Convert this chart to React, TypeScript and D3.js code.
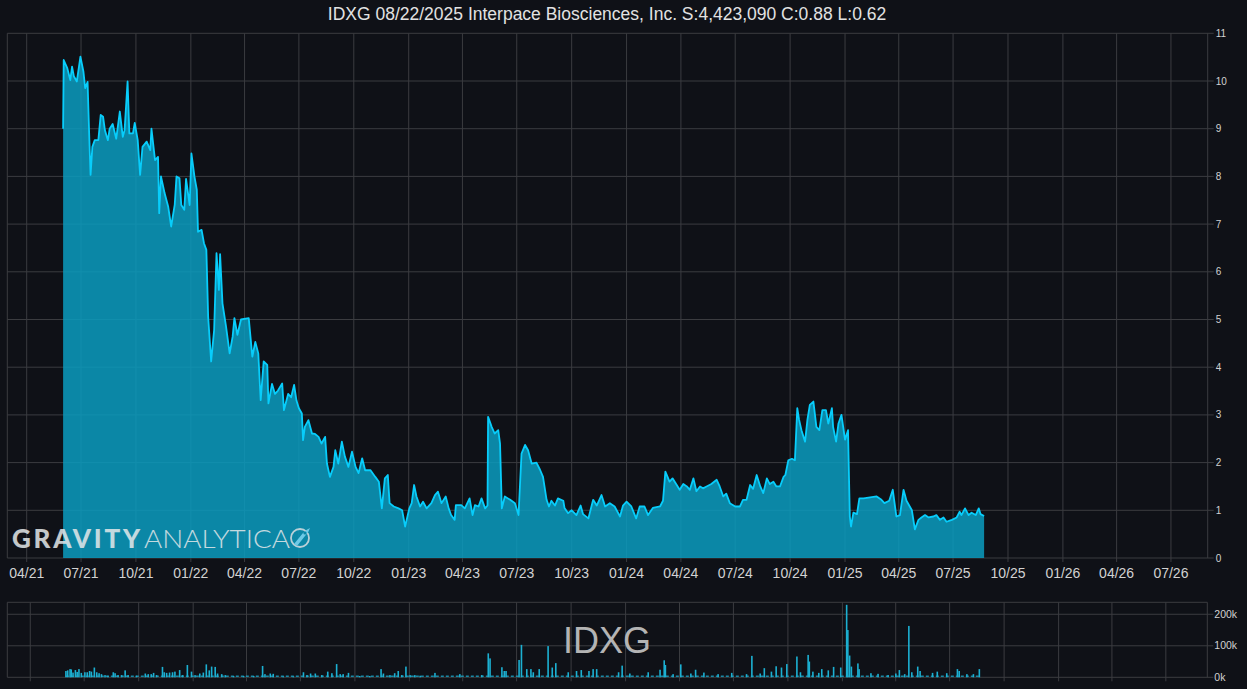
import React from 'react';
import * as d3 from 'd3';

const W = 1247;
const H = 689;

const TITLE = 'IDXG 08/22/2025 Interpace Biosciences, Inc. S:4,423,090 C:0.88 L:0.62';
const SYMBOL = 'IDXG';

const priceDates = [
  '2021-06-01','2021-06-02','2021-06-08','2021-06-13','2021-06-16','2021-06-19','2021-06-24','2021-06-30',
  '2021-07-05','2021-07-08','2021-07-12','2021-07-15','2021-07-17','2021-07-20','2021-07-24','2021-07-30',
  '2021-08-03','2021-08-07','2021-08-10','2021-08-15','2021-08-18','2021-08-23','2021-08-29',
  '2021-09-04','2021-09-09','2021-09-12','2021-09-17','2021-09-20','2021-09-26','2021-09-29',
  '2021-10-04','2021-10-08','2021-10-12','2021-10-19','2021-10-25','2021-10-27',
  '2021-11-02','2021-11-07','2021-11-09','2021-11-12','2021-11-18','2021-11-24','2021-11-29',
  '2021-12-05','2021-12-08','2021-12-13','2021-12-16','2021-12-21','2021-12-24','2021-12-30',
  '2022-01-02','2022-01-07','2022-01-11','2022-01-13','2022-01-19','2022-01-23','2022-01-27','2022-01-30',
  '2022-02-04','2022-02-09','2022-02-13','2022-02-17','2022-02-19','2022-02-23',
  '2022-03-01','2022-03-07','2022-03-12','2022-03-15','2022-03-20','2022-03-26',
  '2022-04-08','2022-04-14','2022-04-19','2022-04-24','2022-04-28',
  '2022-05-03','2022-05-09','2022-05-11','2022-05-17','2022-05-22','2022-05-27',
  '2022-06-03','2022-06-06','2022-06-13','2022-06-18','2022-06-23','2022-06-27',
  '2022-07-01','2022-07-06','2022-07-08','2022-07-11','2022-07-17','2022-07-23','2022-07-28',
  '2022-08-03','2022-08-08','2022-08-14','2022-08-17','2022-08-22','2022-08-28','2022-08-31',
  '2022-09-05','2022-09-11','2022-09-16','2022-09-22','2022-09-28',
  '2022-10-04','2022-10-09','2022-10-15','2022-10-20','2022-10-29',
  '2022-11-06','2022-11-12','2022-11-17','2022-11-22','2022-11-27','2022-11-30',
  '2022-12-07','2022-12-15','2022-12-21','2022-12-26',
  '2023-01-02','2023-01-06','2023-01-10','2023-01-14','2023-01-20','2023-01-25','2023-01-31',
  '2023-02-08','2023-02-14','2023-02-19','2023-02-25',
  '2023-03-04','2023-03-09','2023-03-13','2023-03-19','2023-03-21','2023-03-30',
  '2023-04-05','2023-04-13','2023-04-18','2023-04-22','2023-04-28',
  '2023-05-03','2023-05-09','2023-05-13','2023-05-14','2023-05-20','2023-05-25','2023-05-31',
  '2023-06-03','2023-06-06','2023-06-11','2023-06-20','2023-06-28',
  '2023-07-04','2023-07-09','2023-07-15','2023-07-20','2023-07-26',
  '2023-08-03','2023-08-09','2023-08-14','2023-08-20','2023-08-24','2023-08-28',
  '2023-09-03','2023-09-08','2023-09-17','2023-09-19','2023-09-25',
  '2023-10-01','2023-10-09','2023-10-16','2023-10-20','2023-10-29',
  '2023-11-06','2023-11-12','2023-11-20','2023-11-26',
  '2023-12-04','2023-12-12','2023-12-21','2023-12-26',
  '2024-01-01','2024-01-09','2024-01-17','2024-01-23','2024-01-31',
  '2024-02-06','2024-02-14','2024-02-26',
  '2024-03-02','2024-03-06','2024-03-13','2024-03-18','2024-03-24','2024-03-30',
  '2024-04-05','2024-04-11','2024-04-16','2024-04-22','2024-04-27',
  '2024-05-03','2024-05-08','2024-05-14','2024-05-22','2024-05-31',
  '2024-06-05','2024-06-11','2024-06-16','2024-06-22',
  '2024-07-01','2024-07-09','2024-07-14','2024-07-20','2024-07-26','2024-07-31',
  '2024-08-06','2024-08-12','2024-08-17','2024-08-23','2024-08-28',
  '2024-09-03','2024-09-08','2024-09-14','2024-09-20','2024-09-23','2024-09-28',
  '2024-10-04','2024-10-09','2024-10-13','2024-10-16','2024-10-20','2024-10-26','2024-10-30',
  '2024-11-03','2024-11-09','2024-11-14','2024-11-19','2024-11-24','2024-11-30',
  '2024-12-04','2024-12-10','2024-12-12','2024-12-17','2024-12-21','2024-12-26',
  '2025-01-01','2025-01-06','2025-01-09','2025-01-11','2025-01-15','2025-01-21','2025-01-25',
  '2025-02-01','2025-02-12','2025-02-23',
  '2025-03-03','2025-03-08','2025-03-16','2025-03-22','2025-03-28',
  '2025-04-03','2025-04-09','2025-04-14','2025-04-23','2025-04-28',
  '2025-05-04','2025-05-09','2025-05-15','2025-05-21','2025-05-29',
  '2025-06-03','2025-06-09','2025-06-15','2025-06-20','2025-06-29',
  '2025-07-07','2025-07-12','2025-07-15','2025-07-21','2025-07-27',
  '2025-08-01','2025-08-08','2025-08-13','2025-08-16','2025-08-22',
];

const priceValues = [
  9.0,10.44,10.27,10.02,10.3,10.1,9.99,10.51,
  10.2,9.85,9.98,8.76,8.03,8.62,8.76,8.76,
  9.29,9.25,8.97,8.76,9.0,9.1,8.79,
  9.36,8.83,8.97,9.99,8.9,8.9,9.12,
  8.76,8.03,8.62,8.73,8.55,9.0,
  8.34,8.41,7.23,8.0,7.65,7.37,6.95,
  7.41,8.0,7.96,7.4,7.3,7.95,7.4,
  8.48,8.0,7.72,6.84,6.88,6.6,6.46,5.06,
  4.12,4.78,6.39,5.62,6.37,5.34,
  4.85,4.29,4.64,5.03,4.68,5.0,
  5.03,4.22,4.53,4.29,3.31,
  4.12,4.05,3.24,3.65,3.44,3.51,
  3.66,3.1,3.44,3.37,3.63,3.3,
  3.14,3.03,2.47,2.75,2.89,2.61,2.6,
  2.54,2.4,2.54,1.98,1.7,1.91,2.26,
  1.98,2.44,2.13,1.91,2.23,
  1.91,1.78,2.09,1.84,1.84,
  1.7,1.6,1.04,1.67,1.74,1.15,
  1.08,1.04,1.0,0.66,
  1.04,1.15,1.53,1.29,1.08,1.18,1.04,
  1.15,1.32,1.39,1.15,
  1.29,1.04,0.9,0.8,1.11,1.11,
  1.04,1.25,0.9,1.11,1.08,
  1.25,1.04,1.1,2.96,2.75,2.61,2.68,
  2.4,1.04,1.29,1.22,1.15,
  0.9,2.19,2.37,2.26,1.98,
  2.0,1.85,1.7,1.22,1.08,1.2,
  1.1,1.25,1.2,1.05,0.94,
  1.0,0.9,1.1,0.92,0.83,
  1.22,1.1,1.32,1.08,
  1.15,1.08,0.87,1.1,
  1.18,1.08,0.83,1.08,1.08,
  0.9,1.05,1.08,
  1.2,1.81,1.6,1.67,1.55,1.43,
  1.55,1.5,1.43,1.67,1.4,
  1.5,1.46,1.5,1.55,1.64,
  1.5,1.29,1.35,1.15,
  1.08,1.08,1.22,1.22,1.53,1.45,
  1.74,1.5,1.36,1.67,1.55,
  1.6,1.5,1.5,1.7,1.74,2.05,
  2.08,2.05,3.14,2.9,2.68,2.44,2.9,
  3.21,3.28,2.75,2.68,3.1,3.1,
  2.82,3.14,2.75,2.44,2.82,3.0,
  2.48,2.68,0.87,0.66,0.95,0.92,1.25,
  1.25,1.27,1.29,
  1.22,1.15,1.2,1.43,0.87,
  0.9,1.43,1.2,1.0,0.6,
  0.8,0.85,0.9,0.85,0.87,
  0.9,0.8,0.85,0.76,0.8,
  0.85,0.97,0.9,1.04,0.9,
  0.95,0.9,1.04,0.92,0.88,
];

const volumeDates = [
  '2021-05-31','2021-06-03','2021-06-07','2021-06-09','2021-06-12','2021-06-16','2021-06-19','2021-06-22','2021-06-26',
  '2021-07-02','2021-07-06','2021-07-10','2021-07-13','2021-07-18','2021-07-22','2021-07-26','2021-07-30',
  '2021-08-05','2021-08-10','2021-08-19','2021-08-22','2021-08-27','2021-09-02','2021-09-08','2021-09-13','2021-09-27',
  '2021-10-12','2021-10-17','2021-10-22','2021-10-26','2021-10-31','2021-11-10','2021-11-13','2021-11-17','2021-11-22','2021-11-27',
  '2021-12-01','2021-12-09','2021-12-14','2021-12-22','2021-12-29',
  '2022-01-04','2022-01-12','2022-01-18','2022-01-23','2022-01-28','2022-02-01','2022-02-07','2022-02-11','2022-02-18','2022-02-24',
  '2022-03-10','2022-03-27','2022-04-13','2022-04-28','2022-05-02','2022-05-11','2022-05-16','2022-06-02','2022-06-19',
  '2022-07-06','2022-07-12','2022-07-18','2022-07-26','2022-08-06','2022-08-16','2022-08-23','2022-08-31',
  '2022-09-06','2022-09-11','2022-09-20','2022-10-09','2022-10-26','2022-11-14','2022-11-18','2022-11-29',
  '2022-12-07','2022-12-13','2022-12-19','2022-12-26',
  '2023-01-02','2023-01-10','2023-01-19','2023-02-13','2023-03-27','2023-05-03','2023-05-14','2023-05-17',
  '2023-06-06','2023-06-10','2023-06-13','2023-07-05','2023-07-09','2023-07-18','2023-07-25','2023-07-29',
  '2023-08-08','2023-08-23','2023-08-30','2023-09-05','2023-09-26','2023-10-10','2023-10-18','2023-10-31',
  '2023-11-07','2023-11-13','2023-12-20','2023-12-26',
  '2024-01-08','2024-02-08','2024-02-28','2024-03-06','2024-03-08','2024-03-21','2024-04-03','2024-04-20','2024-04-28',
  '2024-05-12','2024-06-05','2024-06-28','2024-07-23','2024-08-01','2024-08-15','2024-08-22','2024-09-03','2024-09-11',
  '2024-09-20','2024-09-29','2024-10-16','2024-10-22','2024-11-04','2024-11-06','2024-11-12','2024-11-22','2024-11-27',
  '2024-12-08','2024-12-17','2024-12-29',
  '2025-01-08','2025-01-10','2025-01-13','2025-01-16','2025-01-27','2025-01-29','2025-02-18','2025-03-02','2025-03-19',
  '2025-04-01','2025-04-07','2025-04-16','2025-04-23','2025-04-28','2025-05-08','2025-05-12','2025-06-02','2025-06-10',
  '2025-06-26','2025-07-14','2025-07-17','2025-07-30','2025-08-10','2025-08-20',
];

const volumeValues = [
  20000,22000,26000,25000,15000,23000,17000,26000,14000,
  16000,16000,20000,18000,31000,16000,13000,10000,
  7000,5000,16000,13000,7000,7000,22000,7000,5000,
  12000,10000,10000,14000,7000,33000,16000,14000,15000,16000,
  18000,23000,7000,39000,18000,
  7000,12000,15000,41000,22000,34000,33000,12000,10000,7000,
  4000,4000,4000,36000,10000,12000,11000,3000,3000,
  16000,7000,12000,12000,7000,18000,13000,42000,
  10000,10000,14000,4000,4000,26000,12000,7000,
  13000,20000,7000,34000,
  7000,7000,5000,14000,10000,7000,76000,60000,
  32000,20000,20000,55000,103000,26000,26000,16000,
  26000,99000,31000,45000,16000,20000,23000,20000,
  26000,26000,16000,37000,
  12000,16000,24000,54000,39000,10000,41000,12000,24000,
  15000,10000,14000,10000,68000,12000,29000,18000,35000,
  31000,42000,66000,16000,71000,50000,18000,14000,26000,
  22000,33000,31000,
  230000,150000,69000,34000,44000,26000,13000,11000,7000,
  12000,23000,10000,163000,16000,34000,20000,14000,18000,
  13000,26000,20000,10000,10000,26000,
];

const priceTicks = [0, 1, 2, 3, 4, 5, 6, 7, 8, 9, 10, 11];
const volumeTicks = [0, 100000, 200000];

const BG = '#0f1117';
const GRID = '#3b3c40';
const TEXT = '#d2d2d2';
const FONT = '"Liberation Sans", Arial, Helvetica, sans-serif';

export default function App() {
  const parse = d3.utcParse('%Y-%m-%d');
  const prices = priceDates.map((d, i) => ({ date: parse(d) as Date, v: priceValues[i] }));
  const vols = volumeDates.map((d, i) => ({ date: parse(d) as Date, v: volumeValues[i] }));

  // main panel
  const mL = 7.3, mR = 1207.7, mT = 33.3, mB = 558;
  const x = d3.scaleUtc()
    .domain([new Date(Date.UTC(2021, 1, 27, 12)), new Date(Date.UTC(2026, 7, 31, 14))])
    .range([mL, mR]);
  const y = d3.scaleLinear().domain([0, 11]).range([mB, mT]);

  // volume panel
  const vL = 7.3, vR = 1207.3, vT = 602.3, vB = 677.3;
  const xv = d3.scaleUtc()
    .domain([new Date(Date.UTC(2021, 1, 21, 5)), new Date(Date.UTC(2026, 8, 9, 0))])
    .range([vL, vR]);
  const yv = d3.scaleLinear().domain([0, 238000]).range([vB, vT]);

  const xTicks = x.ticks(d3.utcMonth.every(3) as any);
  const xvTicks = xv.ticks(d3.utcMonth.every(3) as any).filter(
    (t) => t >= new Date(Date.UTC(2021, 3, 1)) && t <= new Date(Date.UTC(2026, 6, 1))
  );
  const fmt = d3.utcFormat('%m/%y');

  const area = d3.area<{ date: Date; v: number }>()
    .x((d) => x(d.date))
    .y0(y(0))
    .y1((d) => y(d.v));
  const line = d3.line<{ date: Date; v: number }>()
    .x((d) => x(d.date))
    .y((d) => y(d.v));

  const volStart = vols[0].date;
  const volEnd = vols[vols.length - 1].date;

  return (
    <svg
      width={W}
      height={H}
      style={{ position: 'fixed', left: 0, top: 0, display: 'block', fontFamily: FONT }}
    >
      <rect x={0} y={0} width={W} height={H} fill={BG} />

      {/* title */}
      <text x={607} y={20} textAnchor="middle" fill="#e2e2e2" fontSize={17.5} fontFamily={FONT}>
        {TITLE}
      </text>

      {/* main grid */}
      <g>
        {priceTicks.map((t) => (
          <line key={'h' + t} x1={mL} x2={mR + 6} y1={y(t)} y2={y(t)} stroke={GRID} strokeWidth={1} />
        ))}
        {xTicks.map((t, i) => (
          <line key={'v' + i} x1={x(t)} x2={x(t)} y1={mT} y2={mB + 4} stroke={GRID} strokeWidth={1} />
        ))}
        <line x1={mL} x2={mL} y1={mT} y2={mB} stroke={GRID} />
        <line x1={mR} x2={mR} y1={mT} y2={mB} stroke={GRID} />
      </g>

      {/* price area + line */}
      <path d={area(prices) || ''} fill="#0a9cc0" fillOpacity={0.85} />
      <path d={line(prices) || ''} fill="none" stroke="#08cdfb" strokeWidth={1.8} strokeLinejoin="round" />

      {/* right axis labels */}
      {priceTicks.map((t) => (
        <text key={'yl' + t} x={mR + 8} y={y(t)} dy="0.35em" fill={TEXT} fontSize={10} fontFamily={FONT}>
          {t}
        </text>
      ))}

      {/* x-axis labels */}
      {xTicks.map((t, i) => (
        <text key={'xl' + i} x={x(t)} y={577.5} textAnchor="middle" fill={TEXT} fontSize={14} fontFamily={FONT}>
          {fmt(t)}
        </text>
      ))}

      {/* watermark */}
      <g opacity={0.85}>
        <text x={12} y={547.5} fill="#e4e8ea" fontSize={26} fontWeight={900} fontFamily="Lato, 'Open Sans', sans-serif" textLength={128} lengthAdjust="spacing">
          GRAVITY
        </text>
        <text x={144} y={547.5} fill="#e4e8ea" fontSize={26} fontWeight={300} fontFamily="Lato, 'Open Sans', sans-serif" textLength={146} lengthAdjust="spacingAndGlyphs">
          ANALYTICA
        </text>
        <circle cx={300} cy={538} r={9} fill="none" stroke="#d8dde0" strokeWidth={1.8} />
        <path d="M 294 544 L 303 533 Q 307 529 310 528 Q 309 532 305 536 L 297 546 Z" fill="#7fd6f2" />
        <circle cx={305} cy={533} r={1.6} fill="#0a86a4" />
      </g>

      {/* volume panel grid */}
      <g>
        <line x1={vL} x2={vR} y1={vT} y2={vT} stroke={GRID} />
        {volumeTicks.map((t) => (
          <line key={'vh' + t} x1={vL} x2={vR + 6} y1={yv(t)} y2={yv(t)} stroke={GRID} />
        ))}
        {xvTicks.map((t, i) => (
          <line key={'vv' + i} x1={xv(t)} x2={xv(t)} y1={vT} y2={vB + 4} stroke={GRID} />
        ))}
        <line x1={vL} x2={vL} y1={vT} y2={vB} stroke={GRID} />
        <line x1={vR} x2={vR} y1={vT} y2={vB} stroke={GRID} />
      </g>

      {/* symbol watermark */}
      <text x={607} y={653} textAnchor="middle" fill="#b4b4b4" fontSize={36} fontFamily={FONT}>
        {SYMBOL}
      </text>

      {/* volume bars */}
      <line x1={xv(volStart)} x2={xv(volEnd)} y1={vB - 1} y2={vB - 1} stroke="#1aa6c8" strokeWidth={1.5} strokeDasharray="3 2" opacity={0.8} />
      {vols.map((d, i) => (
        <rect
          key={'vb' + i}
          x={xv(d.date) - 0.7}
          y={yv(d.v)}
          width={1.6}
          height={vB - yv(d.v)}
          fill="#1cb0d2"
        />
      ))}

      {/* volume labels */}
      {volumeTicks.map((t) => (
        <text key={'vl' + t} x={vR + 7} y={yv(t)} dy="0.35em" fill={TEXT} fontSize={10.5} fontFamily={FONT}>
          {t / 1000 + 'k'}
        </text>
      ))}
    </svg>
  );
}
